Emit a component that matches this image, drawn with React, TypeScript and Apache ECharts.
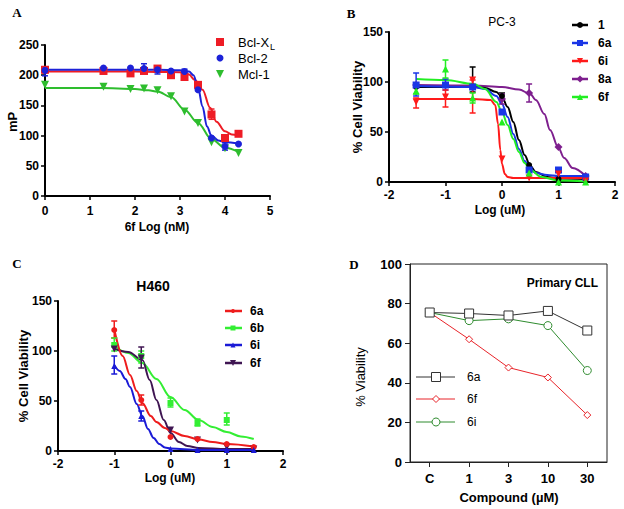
import React, { useEffect, useRef } from "react";
import * as echarts from "echarts";

const FONT = "'Liberation Sans', Arial, Helvetica, sans-serif";
const SERIF = "'Liberation Serif', 'Times New Roman', serif";

// ---------- Panel A ----------
const A_X = [0, 1.3, 1.9, 2.2, 2.5, 2.8, 3.1, 3.4, 3.7, 4.0, 4.3];
const A_BCLXL = [209, 207, 203, 207, 211, 200, 197, 184, 135, 96, 103];
const A_BCL2 = [208, 212, 212, 211, 209, 207, 206, 176, 96, 82, 86];
const A_MCL1 = [184, 181, 177, 178, 175, 165, 140, 121, 89, 79, 71];
const A_BCLXL_FIT = [[0, 206], [1, 206], [2, 206], [2.5, 205.5], [3, 205], [3.2, 201], [3.33, 192], [3.5, 176], [3.67, 146], [3.81, 123], [4, 107], [4.15, 102], [4.3, 100]];
const A_BCL2_FIT = [[0, 209], [2.5, 209], [3, 208], [3.2, 206], [3.3, 200], [3.4, 180], [3.5, 148], [3.6, 115], [3.7, 100], [3.85, 92], [4, 89], [4.3, 87]];
const A_MCL1_FIT = [[0, 179], [1, 179], [1.5, 178.5], [2, 177], [2.3, 175], [2.5, 173], [2.8, 164], [3.1, 143], [3.4, 121], [3.7, 94], [4, 80], [4.3, 73]];
const A_BCLXL_ERR = [[0, 204, 214], [3.7, 127, 144]];
const A_BCL2_ERR = [[0, 199, 214], [2.2, 204, 219], [2.5, 202, 214], [3.1, 204, 210], [4.0, 76, 88]];

// ---------- Panel B (PC-3) ----------
const B_X = [-1.52, -1, -0.52, 0, 0.48, 1, 1.48];
const B_1 = [95, 97, 95, 86, 17, 3, 3];
const B_6A = [97, 97, 95, 70, 12, 12, 5];
const B_6I = [80, 85, 102, 23, 4, 8, 1];
const B_8A = [97, 97, 95, 83, 89, 35, 6];
const B_6F = [91, 113, 84, 60, 9, 0, 0];
const B_1_FIT = [[-1.52, 95], [-1, 95], [-0.5, 95], [-0.3, 94], [-0.1, 90], [0, 85], [0.1, 75], [0.2, 60], [0.3, 42], [0.4, 27], [0.5, 16], [0.6, 10], [0.8, 5], [1, 3.5], [1.48, 3]];
const B_6A_FIT = [[-1.52, 96], [-0.5, 95], [-0.3, 93], [-0.1, 86], [0, 78], [0.1, 65], [0.2, 48], [0.3, 33], [0.4, 21], [0.5, 13], [0.6, 9], [0.8, 7], [1, 6], [1.48, 6]];
const B_6I_FIT = [[-1.52, 83], [-0.5, 83], [-0.2, 82], [-0.12, 77], [-0.07, 58], [-0.03, 32], [0, 18], [0.05, 8], [0.1, 5], [0.2, 4], [1.48, 4]];
const B_8A_FIT = [[-1.52, 97], [-0.5, 96.5], [0, 95], [0.3, 92.5], [0.5, 88], [0.6, 82], [0.75, 68], [0.85, 52], [1, 34], [1.1, 24], [1.25, 14], [1.48, 6]];
const B_6F_FIT = [[-1.52, 103], [-1, 102], [-0.5, 98], [-0.3, 93], [-0.1, 80], [0, 70], [0.1, 57], [0.2, 43], [0.3, 30], [0.4, 19], [0.5, 12], [0.7, 5], [1, 1.5], [1.48, 0.5]];
const B_1_ERR = [[-0.52, 90, 115], [0, 83, 89]];
const B_6A_ERR = [[-1.52, 86, 109], [-1, 92, 103]];
const B_6I_ERR = [[-1.52, 74, 84], [-1, 75, 92], [-0.52, 69, 102]];
const B_8A_ERR = [[0, 78, 88], [0.48, 80, 98]];
const B_6F_ERR = [[-1.52, 88, 96], [-1, 104, 122], [-0.52, 79, 89]];

// ---------- Panel C (H460) ----------
const C_X = [-1, -0.52, 0, 0.48, 1, 1.48];
const C_6A = [121, 51, 14, 12, 7, 4];
const C_6B = [106, 95, 48, 28, 31];
const C_6I = [85, 35, 2, 1, 1, 1];
const C_6F = [102, 93, 21, 11, 4, 2];
const C_6A_FIT = [[-1, 122], [-0.85, 95], [-0.72, 76], [-0.6, 60], [-0.5, 48], [-0.35, 35], [-0.25, 29], [-0.1, 23], [0, 20], [0.25, 15], [0.5, 11.5], [0.75, 9], [1, 7], [1.48, 4.5]];
const C_6B_FIT = [[-1, 105], [-0.75, 98], [-0.5, 88], [-0.25, 72], [0, 54], [0.25, 41], [0.5, 31], [0.75, 24], [1, 19], [1.25, 14.5], [1.48, 12]];
const C_6I_FIT = [[-1, 86], [-0.9, 80], [-0.8, 72], [-0.72, 64], [-0.6, 47], [-0.5, 35], [-0.4, 22], [-0.3, 13], [-0.2, 7], [-0.1, 3.5], [0, 2.5], [0.5, 1], [1.48, 1]];
const C_6F_FIT = [[-1, 102], [-0.75, 99], [-0.5, 91], [-0.37, 71], [-0.25, 51], [-0.12, 31], [0, 18], [0.15, 9], [0.3, 5], [0.5, 3], [1, 2], [1.48, 2]];
const C_6A_ERR = [[-1, 113, 130], [-0.52, 46, 56]];
const C_6B_ERR = [[-1, 100, 113], [-0.52, 88, 100], [0, 44, 53], [0.48, 25, 32], [1, 26, 38]];
const C_6I_ERR = [[-1, 77, 95], [-0.52, 30, 40]];
const C_6F_ERR = [[-0.52, 83, 104]];

// ---------- Panel D (Primary CLL) ----------
const D_CATS = ["C", "1", "3", "10", "30"];
const D_6A = [75.5, 75, 74, 76.3, 66.4];
const D_6F = [75.5, 62, 47.7, 42.7, 23.7];
const D_6I = [75.5, 71.4, 72.3, 68.9, 46.2];

const zip = (xs: number[], ys: number[]) => ys.map((y, i) => [xs[i], y]);

function errSeries(data: number[][], color: string, gi: number, w = 3) {
  return {
    type: "custom",
    xAxisIndex: gi,
    yAxisIndex: gi,
    data,
    encode: { x: 0, y: [1, 2] },
    z: 3,
    silent: true,
    clip: false,
    renderItem: (_p: any, api: any) => {
      const x = api.value(0);
      const a = api.coord([x, api.value(1)]);
      const b = api.coord([x, api.value(2)]);
      const st = { stroke: color, lineWidth: 1.5 };
      return {
        type: "group",
        children: [
          { type: "line", shape: { x1: a[0], y1: a[1], x2: b[0], y2: b[1] }, style: st },
          { type: "line", shape: { x1: a[0] - w, y1: a[1], x2: a[0] + w, y2: a[1] }, style: st },
          { type: "line", shape: { x1: b[0] - w, y1: b[1], x2: b[0] + w, y2: b[1] }, style: st },
        ],
      };
    },
  };
}

function fitSeries(data: number[][], color: string, gi: number, width = 2) {
  return {
    type: "line",
    xAxisIndex: gi,
    yAxisIndex: gi,
    data,
    showSymbol: false,
    smooth: 0.35,
    smoothMonotone: "x",
    lineStyle: { color, width },
    z: 2,
    silent: true,
  };
}

function ptSeries(data: number[][], color: string, gi: number, symbol: string, size: number, rotate = 0) {
  return {
    type: "scatter",
    xAxisIndex: gi,
    yAxisIndex: gi,
    data,
    symbol,
    symbolSize: size,
    symbolRotate: rotate,
    itemStyle: { color, opacity: 1 },
    z: 4,
    clip: false,
    silent: true,
  };
}

function valAxis(gi: number, min: number, max: number, interval: number, margin = 8) {
  return {
    type: "value",
    gridIndex: gi,
    min,
    max,
    interval,
    splitLine: { show: false },
    axisLine: { show: true, onZero: false, lineStyle: { color: "#000", width: 2 } },
    axisTick: { show: true, inside: false, length: 4, lineStyle: { color: "#000", width: 1.5 } },
    axisLabel: { color: "#000", fontFamily: FONT, fontSize: 12, fontWeight: "bold", margin },
  };
}

function marker(kind: string, cx: number, cy: number, size: number, color: string, hollow = false) {
  const h = size / 2;
  const style = hollow ? { fill: "#fff", stroke: color, lineWidth: 1 } : { fill: color };
  switch (kind) {
    case "rect":
      return { type: "rect", shape: { x: cx - h, y: cy - h, width: size, height: size }, style, z: 10 };
    case "circle":
      return { type: "circle", shape: { cx, cy, r: h }, style, z: 10 };
    case "triUp":
      return { type: "polygon", shape: { points: [[cx, cy - h], [cx + h, cy + h], [cx - h, cy + h]] }, style, z: 10 };
    case "triDown":
      return { type: "polygon", shape: { points: [[cx - h, cy - h], [cx + h, cy - h], [cx, cy + h]] }, style, z: 10 };
    default:
      return { type: "polygon", shape: { points: [[cx, cy - h], [cx + h, cy], [cx, cy + h], [cx - h, cy]] }, style, z: 10 };
  }
}

function txt(text: string, x: number, y: number, font: string, align = "center", rotation = 0) {
  return {
    type: "text",
    x,
    y,
    rotation,
    z: 10,
    style: { text, font, fill: "#000", textAlign: align, textVerticalAlign: "middle" },
  };
}

function lineLegend(x1: number, x2: number, y: number, color: string, width: number) {
  return { type: "line", shape: { x1, y1: y, x2, y2: y }, style: { stroke: color, lineWidth: width }, z: 9 };
}

const COL = {
  aRed: "#ee1c25",
  aBlue: "#1c22d8",
  aGreen: "#2ebd2e",
  bBlack: "#000000",
  bBlue: "#1a36e6",
  bRed: "#ff1a1a",
  bPurple: "#7e1f8e",
  bGreen: "#22ee22",
  cRed: "#ee1c1c",
  cGreen: "#33ee33",
  cBlue: "#1a1ad6",
  cPurple: "#3f1552",
  dBlack: "#333333",
  dRed: "#e8242a",
  dGreen: "#2e8b2e",
};

export default function App() {
  const ref = useRef<HTMLDivElement>(null);
  useEffect(() => {
    if (!ref.current) return;
    const chart = echarts.init(ref.current, undefined, { renderer: "svg" });
    const bold12 = `bold 12px ${FONT}`;
    const graphic: any[] = [
      // panel letters
      txt("A", 17, 12, `bold 13px ${SERIF}`),
      txt("B", 351, 13, `bold 13px ${SERIF}`),
      txt("C", 17, 263, `bold 13px ${SERIF}`),
      txt("D", 354, 264, `bold 13px ${SERIF}`),
      // A
      txt("mP", 12, 122, `bold 13px ${FONT}`, "center", Math.PI / 2),
      txt("6f Log (nM)", 157, 227, bold12),
      marker("rect", 220, 42, 8, COL.aRed),
      txt("Bcl-X", 238, 42, `13px ${FONT}`, "left"),
      txt("L", 270, 47, `9px ${FONT}`, "left"),
      marker("circle", 220, 58, 7, COL.aBlue),
      txt("Bcl-2", 238, 58, `13px ${FONT}`, "left"),
      marker("triDown", 220, 74, 8, COL.aGreen),
      txt("Mcl-1", 238, 74, `13px ${FONT}`, "left"),
      // B
      txt("PC-3", 502, 22, `12px ${FONT}`),
      txt("% Cell Viability", 357, 107, `bold 13px ${FONT}`, "center", Math.PI / 2),
      txt("Log (uM)", 500, 210, bold12),
      lineLegend(572, 588, 25, COL.bBlack, 2.5),
      marker("circle", 580, 25, 6, COL.bBlack),
      txt("1", 598, 25, bold12, "left"),
      lineLegend(572, 588, 43, COL.bBlue, 2.5),
      marker("rect", 580, 43, 6, COL.bBlue),
      txt("6a", 598, 43, bold12, "left"),
      lineLegend(572, 588, 61, COL.bRed, 2.5),
      marker("triDown", 580, 61, 6, COL.bRed),
      txt("6i", 598, 61, bold12, "left"),
      lineLegend(572, 588, 79, COL.bPurple, 2.5),
      marker("diamond", 580, 79, 7, COL.bPurple),
      txt("8a", 598, 79, bold12, "left"),
      lineLegend(572, 588, 97, COL.bGreen, 2.5),
      marker("triUp", 580, 97, 6, COL.bGreen),
      txt("6f", 598, 97, bold12, "left"),
      // C
      txt("H460", 153, 286, `bold 14px ${FONT}`),
      txt("% Cell Viability", 23, 376, `bold 13px ${FONT}`, "center", Math.PI / 2),
      txt("Log (uM)", 170, 478, bold12),
      lineLegend(225, 242, 311, COL.cRed, 2.5),
      marker("circle", 233, 311, 4, COL.cRed),
      txt("6a", 250, 311, bold12, "left"),
      lineLegend(225, 242, 328, COL.cGreen, 2.5),
      marker("rect", 233, 328, 5, COL.cGreen),
      txt("6b", 250, 328, bold12, "left"),
      lineLegend(225, 242, 345, COL.cBlue, 2.5),
      marker("triUp", 233, 345, 5, COL.cBlue),
      txt("6i", 250, 345, bold12, "left"),
      lineLegend(225, 242, 363, COL.cPurple, 2.5),
      marker("triDown", 233, 363, 6, COL.cPurple),
      txt("6f", 250, 363, bold12, "left"),
      // D
      txt("Primary CLL", 598, 283, `bold 12px ${FONT}`, "right"),
      txt("% Viability", 360, 377, `13px ${FONT}`, "center", Math.PI / 2),
      txt("Compound (\u00B5M)", 509, 497, `bold 13px ${FONT}`),
      lineLegend(416, 455, 377, COL.dBlack, 1),
      marker("rect", 436, 377, 9, COL.dBlack, true),
      txt("6a", 467, 377, `12px ${FONT}`, "left"),
      lineLegend(416, 455, 399, COL.dRed, 1),
      marker("diamond", 436, 399, 7, COL.dRed, true),
      txt("6f", 467, 399, `12px ${FONT}`, "left"),
      lineLegend(416, 455, 422, COL.dGreen, 1),
      marker("circle", 436, 422, 8, COL.dGreen, true),
      txt("6i", 467, 422, `12px ${FONT}`, "left"),
    ];

    const dLine = (data: number[], color: string, symbol: string, size: number) => ({
      type: "line",
      xAxisIndex: 3,
      yAxisIndex: 3,
      data,
      symbol,
      symbolSize: size,
      showSymbol: true,
      lineStyle: { color, width: 1 },
      itemStyle: { color: "#fff", borderColor: color, borderWidth: 1 },
      z: 3,
      silent: true,
    });

    const option: any = {
      animation: false,
      backgroundColor: "#fff",
      textStyle: { fontFamily: FONT },
      grid: [
        { left: 45, top: 45, width: 225, height: 151 },
        { left: 389, top: 32, width: 226, height: 150 },
        { left: 58, top: 301, width: 225, height: 150 },
        { left: 410, top: 264, width: 197, height: 198, show: true, borderColor: "#222", borderWidth: 1, backgroundColor: "transparent" },
      ],
      xAxis: [
        valAxis(0, 0, 5, 1, 9),
        valAxis(1, -2, 2, 1, 7),
        valAxis(2, -2, 2, 1, 7),
        {
          type: "category",
          gridIndex: 3,
          data: D_CATS,
          boundaryGap: true,
          axisLine: { show: true, onZero: false, lineStyle: { color: "#222", width: 1 } },
          axisTick: { show: true, inside: false, alignWithLabel: true, length: 5, lineStyle: { color: "#222", width: 1 } },
          axisLabel: { color: "#000", fontFamily: FONT, fontSize: 13, fontWeight: "bold", margin: 10 },
          splitLine: { show: false },
        },
      ],
      yAxis: [
        valAxis(0, 0, 250, 50, 6),
        valAxis(1, 0, 150, 50, 6),
        valAxis(2, 0, 150, 50, 6),
        {
          type: "value",
          gridIndex: 3,
          min: 0,
          max: 100,
          interval: 20,
          axisLine: { show: true, onZero: false, lineStyle: { color: "#222", width: 1 } },
          axisTick: { show: true, inside: false, length: 5, lineStyle: { color: "#222", width: 1 } },
          axisLabel: { color: "#000", fontFamily: FONT, fontSize: 13, fontWeight: "bold", margin: 8 },
          splitLine: { show: false },
        },
      ],
      series: [
        // A
        fitSeries(A_MCL1_FIT, COL.aGreen, 0),
        fitSeries(A_BCLXL_FIT, COL.aRed, 0),
        fitSeries(A_BCL2_FIT, COL.aBlue, 0),
        errSeries(A_BCLXL_ERR, COL.aRed, 0),
        errSeries(A_BCL2_ERR, COL.aBlue, 0),
        ptSeries(zip(A_X, A_MCL1), COL.aGreen, 0, "triangle", 8, 180),
        ptSeries(zip(A_X, A_BCLXL), COL.aRed, 0, "rect", 8),
        ptSeries(zip(A_X, A_BCL2), COL.aBlue, 0, "circle", 7),
        // B
        fitSeries(B_8A_FIT, COL.bPurple, 1),
        fitSeries(B_1_FIT, COL.bBlack, 1),
        fitSeries(B_6A_FIT, COL.bBlue, 1),
        fitSeries(B_6I_FIT, COL.bRed, 1),
        fitSeries(B_6F_FIT, COL.bGreen, 1),
        errSeries(B_1_ERR, COL.bBlack, 1),
        errSeries(B_6A_ERR, COL.bBlue, 1),
        errSeries(B_6I_ERR, COL.bRed, 1),
        errSeries(B_8A_ERR, COL.bPurple, 1),
        errSeries(B_6F_ERR, COL.bGreen, 1),
        ptSeries(zip(B_X, B_8A), COL.bPurple, 1, "diamond", 8),
        ptSeries(zip(B_X, B_1), COL.bBlack, 1, "circle", 6),
        ptSeries(zip(B_X, B_6A), COL.bBlue, 1, "rect", 7),
        ptSeries(zip(B_X, B_6I), COL.bRed, 1, "triangle", 7, 180),
        ptSeries(zip(B_X, B_6F), COL.bGreen, 1, "triangle", 7),
        // C
        fitSeries(C_6B_FIT, COL.cGreen, 2),
        fitSeries(C_6F_FIT, COL.cPurple, 2),
        fitSeries(C_6A_FIT, COL.cRed, 2),
        fitSeries(C_6I_FIT, COL.cBlue, 2),
        errSeries(C_6A_ERR, COL.cRed, 2),
        errSeries(C_6B_ERR, COL.cGreen, 2),
        errSeries(C_6I_ERR, COL.cBlue, 2),
        errSeries(C_6F_ERR, COL.cPurple, 2),
        ptSeries(zip(C_X, C_6B), COL.cGreen, 2, "rect", 6),
        ptSeries(zip(C_X, C_6F), COL.cPurple, 2, "triangle", 7, 180),
        ptSeries(zip(C_X, C_6A), COL.cRed, 2, "circle", 6),
        ptSeries(zip(C_X, C_6I), COL.cBlue, 2, "triangle", 6),
        // D
        dLine(D_6I, COL.dGreen, "circle", 8),
        dLine(D_6F, COL.dRed, "diamond", 7),
        dLine(D_6A, COL.dBlack, "rect", 9),
      ],
      graphic,
    };
    chart.setOption(option);
    return () => chart.dispose();
  }, []);
  return <div ref={ref} style={{ width: 624, height: 509, position: "absolute", left: 0, top: 0, background: "#fff" }} />;
}
